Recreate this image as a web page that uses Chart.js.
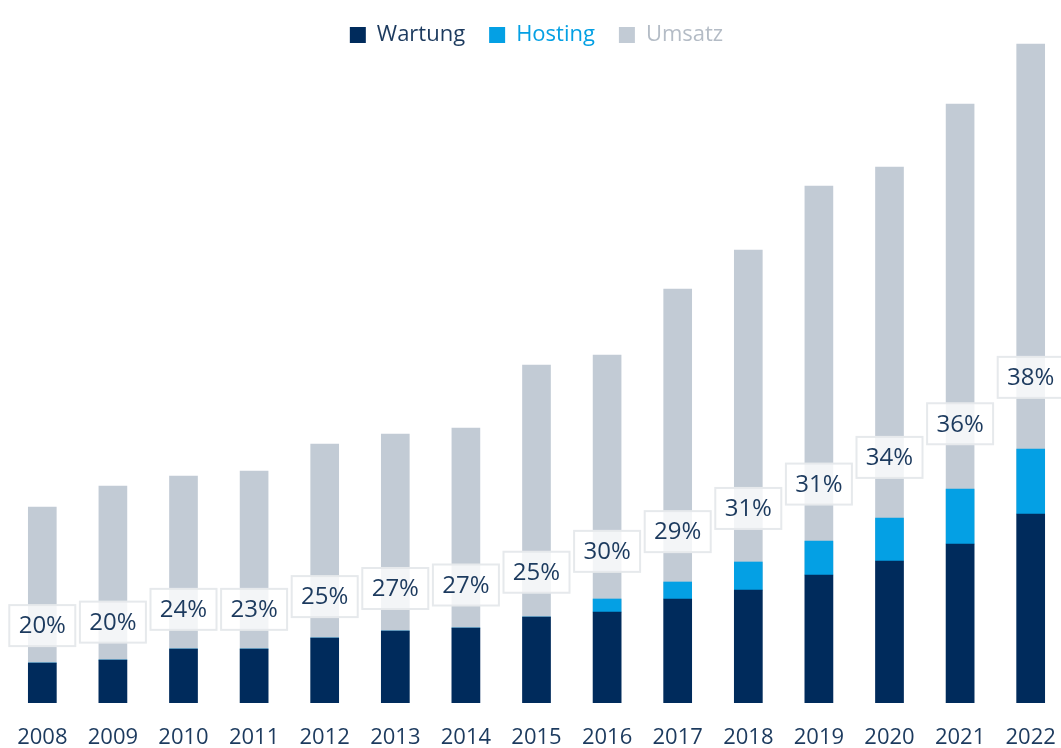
<!DOCTYPE html>
<html>
<head>
<meta charset="utf-8">
<script src="https://cdn.jsdelivr.net/npm/chart.js@4"></script>
<style>
  html, body { margin: 0; padding: 0; background: #fff; overflow: hidden; }
  #wrap { position: relative; width: 1066px; height: 748px; }
</style>
</head>
<body>
<div id="wrap"><canvas id="chart"></canvas></div>
<script>
// Data (arbitrary units)
const years = ['2008', '2009', '2010', '2011', '2012', '2013', '2014', '2015', '2016', '2017', '2018', '2019', '2020', '2021', '2022'];
const wartung = [4.0, 4.3, 5.4, 5.4, 6.5, 7.2, 7.5, 8.6, 9.1, 10.4, 11.3, 12.8, 14.2, 15.9, 18.9];
const hosting = [0, 0, 0, 0, 0, 0, 0, 0, 1.3, 1.7, 2.8, 3.4, 4.3, 5.5, 6.5];
const umsatz = [19.6, 21.7, 22.7, 23.2, 25.9, 26.9, 27.5, 33.8, 34.8, 41.4, 45.3, 51.7, 53.6, 59.9, 65.9];
const shareLabels = ['20%', '20%', '24%', '23%', '25%', '27%', '27%', '25%', '30%', '29%', '31%', '31%', '34%', '36%', '38%'];

const navy = '#002b5c';
const blue = '#04a0e4';
const grey = '#c2cbd5';
const textNavy = '#1c3a5e';
const fontFamily = "'Open Sans', 'Noto Sans', sans-serif";

// Percentage boxes sitting above the Wartung + Hosting part of each bar
const shareBoxes = {
    id: 'shareBoxes',
    afterDatasetsDraw(chart) {
        const ctx = chart.ctx;
        const xScale = chart.scales.x;
        const yScale = chart.scales.y;
        ctx.save();
        ctx.font = '24px ' + fontFamily;
        ctx.textAlign = 'center';
        ctx.textBaseline = 'middle';
        years.forEach((year, i) => {
            const share = wartung[i] + hosting[i];
            const x = xScale.getPixelForValue(i);
            const y = yScale.getPixelForValue(share * 1.16) - 31;
            const w = 66, h = 41;
            ctx.fillStyle = 'rgba(255,255,255,0.8)';
            ctx.fillRect(x - w / 2, y - h / 2, w, h);
            ctx.strokeStyle = '#e6e9ec';
            ctx.lineWidth = 2;
            ctx.strokeRect(x - w / 2, y - h / 2, w, h);
            ctx.fillStyle = textNavy;
            ctx.fillText(shareLabels[i], x, y + 1);
        });
        ctx.restore();
    }
};

// pull the plot area a bit closer to the legend (and don't clip its descenders)
const legendTrim = {
    id: 'legendTrim',
    beforeInit(chart) {
        const legend = chart.legend;
        const fit = legend.fit;
        legend.fit = function () {
            fit.call(this);
            this.height -= 13;
        };
        legend.draw = function () {
            if (this.options.display) this._draw();
        };
    }
};

const legendColors = [textNavy, blue, '#b4bcc6'];

new Chart(document.getElementById('chart'), {
    type: 'bar',
    data: {
        labels: years,
        datasets: [
            { label: 'Wartung', data: wartung, backgroundColor: navy, stack: 'share', order: 0 },
            { label: 'Hosting', data: hosting, backgroundColor: blue, stack: 'share', order: 1 },
            { label: 'Umsatz', data: umsatz, backgroundColor: grey, stack: 'total', order: 2 }
        ]
    },
    options: {
        responsive: true,
        maintainAspectRatio: false,
        animation: false,
        layout: { padding: { left: 7, right: 0, top: 0, bottom: 0 } },
        datasets: { bar: { grouped: false, barThickness: 28, borderWidth: 0 } },
        plugins: {
            legend: {
                position: 'top',
                labels: {
                    boxWidth: 16,
                    boxHeight: 16,
                    padding: 24,
                    font: { family: fontFamily, size: 22 },
                    generateLabels(chart) {
                        const items = Chart.defaults.plugins.legend.labels.generateLabels(chart);
                        items.forEach(item => {
                            item.fontColor = legendColors[item.datasetIndex];
                            item.lineWidth = 0;
                        });
                        return items;
                    }
                }
            },
            tooltip: { enabled: false }
        },
        scales: {
            x: {
                stacked: true,
                grid: { display: false, drawTicks: false },
                border: { display: false },
                ticks: { color: textNavy, font: { family: fontFamily, size: 22 }, padding: 22 },
                afterFit(scale) {
                    scale.height = 45;
                    scale.paddingLeft = 0;
                    scale.paddingRight = 0;
                }
            },
            y: {
                stacked: true,
                display: false,
                min: 0,
                max: 66
            }
        }
    },
    plugins: [shareBoxes, legendTrim]
});
</script>
</body>
</html>
